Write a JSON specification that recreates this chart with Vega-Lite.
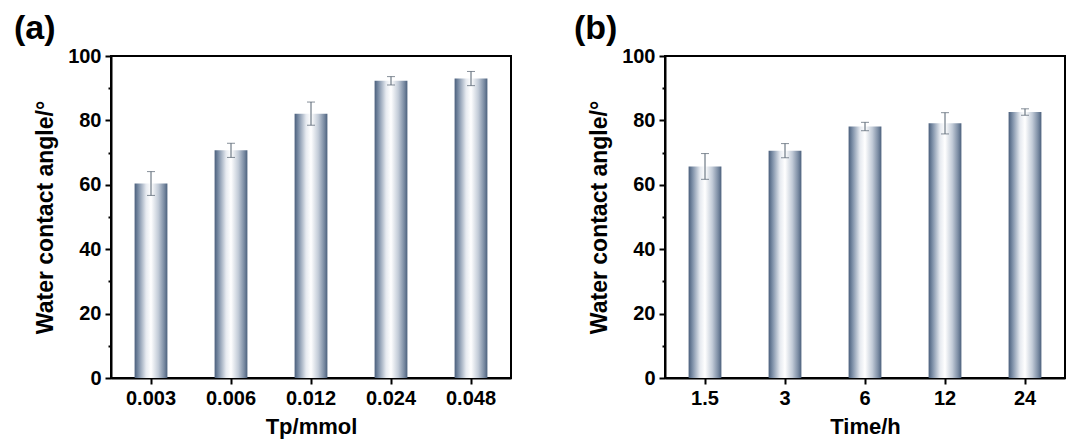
{
  "$schema": "https://vega.github.io/schema/vega-lite/v6.json",
  "padding": {"left": 13, "top": 11, "right": 0, "bottom": 2},
  "background": "white",
  "spacing": 154,
  "bounds": "flush",
  "config": {
    "font": "Liberation Sans",
    "view": {"stroke": "black", "strokeWidth": 2},
    "axis": {
      "grid": false,
      "domainColor": "black",
      "domainWidth": 2,
      "tickColor": "black",
      "tickWidth": 2,
      "tickSize": 6,
      "labelFont": "Liberation Sans",
      "labelFontWeight": "bold",
      "labelFontSize": 20,
      "labelColor": "black",
      "labelPadding": 4,
      "titleFont": "Liberation Sans",
      "titleFontWeight": "bold",
      "titleFontSize": 22,
      "titleColor": "black"
    },
    "title": {"font": "Liberation Sans", "fontWeight": "bold", "fontSize": 34, "color": "black", "anchor": "start", "frame": "group"}
  },
  "hconcat": [
    {
      "width": 400,
      "height": 322,
      "title": {"text": "(a)", "dx": -97, "offset": 0},
      "data": {"values": [
        {"tp": "0.003", "angle": 60.4, "err": 3.7},
        {"tp": "0.006", "angle": 70.7, "err": 2.2},
        {"tp": "0.012", "angle": 82.1, "err": 3.6},
        {"tp": "0.024", "angle": 92.3, "err": 1.3},
        {"tp": "0.048", "angle": 93.0, "err": 2.2}
      ]},
      "encoding": {
        "x": {"field": "tp", "type": "nominal", "sort": null, "title": "Tp/mmol",
              "scale": {"paddingInner": 0, "paddingOuter": 0},
              "axis": {"labelAngle": 0, "titlePadding": 8}},
        "y": {"field": "angle", "type": "quantitative", "title": "Water contact angle/°",
              "scale": {"domain": [0, 100]},
              "axis": {"values": [0, 10, 20, 30, 40, 50, 60, 70, 80, 90, 100],
                       "labelExpr": "datum.value % 20 === 0 ? datum.label : ''",
                       "tickSize": {"condition": {"test": "datum.value % 20 === 0", "value": 6}, "value": 3},
                       "titlePadding": 10, "titleFontSize": 23}}
      },
      "layer": [
        {
          "mark": {"type": "bar", "width": {"band": 0.41},
            "color": {"gradient": "linear", "x1": 0, "y1": 0, "x2": 1, "y2": 0,
              "stops": [
                {"offset": 0, "color": "#4a5f7c"},
                {"offset": 0.12, "color": "#7d8fa7"},
                {"offset": 0.35, "color": "#e6eaf0"},
                {"offset": 0.5, "color": "#ffffff"},
                {"offset": 0.72, "color": "#c3ccd8"},
                {"offset": 0.9, "color": "#7b8ca3"},
                {"offset": 1, "color": "#4c617d"}
              ]}}
        },
        {
          "mark": {"type": "errorbar", "color": "#52606e", "thickness": 1, "ticks": {"size": 8, "color": "#52606e", "thickness": 1}},
          "encoding": {
            "yError": {"field": "err"}
          }
        }
      ]
    },
    {
      "width": 400,
      "height": 322,
      "title": {"text": "(b)", "dx": -91, "offset": 0},
      "data": {"values": [
        {"time": "1.5", "angle": 65.7, "err": 4.0},
        {"time": "3", "angle": 70.6, "err": 2.2},
        {"time": "6", "angle": 78.1, "err": 1.3},
        {"time": "12", "angle": 79.1, "err": 3.3},
        {"time": "24", "angle": 82.6, "err": 1.0}
      ]},
      "encoding": {
        "x": {"field": "time", "type": "nominal", "sort": null, "title": "Time/h",
              "scale": {"paddingInner": 0, "paddingOuter": 0},
              "axis": {"labelAngle": 0, "titlePadding": 8}},
        "y": {"field": "angle", "type": "quantitative", "title": "Water contact angle/°",
              "scale": {"domain": [0, 100]},
              "axis": {"values": [0, 10, 20, 30, 40, 50, 60, 70, 80, 90, 100],
                       "labelExpr": "datum.value % 20 === 0 ? datum.label : ''",
                       "tickSize": {"condition": {"test": "datum.value % 20 === 0", "value": 6}, "value": 3},
                       "titlePadding": 10, "titleFontSize": 23}}
      },
      "layer": [
        {
          "mark": {"type": "bar", "width": {"band": 0.41},
            "color": {"gradient": "linear", "x1": 0, "y1": 0, "x2": 1, "y2": 0,
              "stops": [
                {"offset": 0, "color": "#4a5f7c"},
                {"offset": 0.12, "color": "#7d8fa7"},
                {"offset": 0.35, "color": "#e6eaf0"},
                {"offset": 0.5, "color": "#ffffff"},
                {"offset": 0.72, "color": "#c3ccd8"},
                {"offset": 0.9, "color": "#7b8ca3"},
                {"offset": 1, "color": "#4c617d"}
              ]}}
        },
        {
          "mark": {"type": "errorbar", "color": "#52606e", "thickness": 1, "ticks": {"size": 8, "color": "#52606e", "thickness": 1}},
          "encoding": {
            "yError": {"field": "err"}
          }
        }
      ]
    }
  ]
}
